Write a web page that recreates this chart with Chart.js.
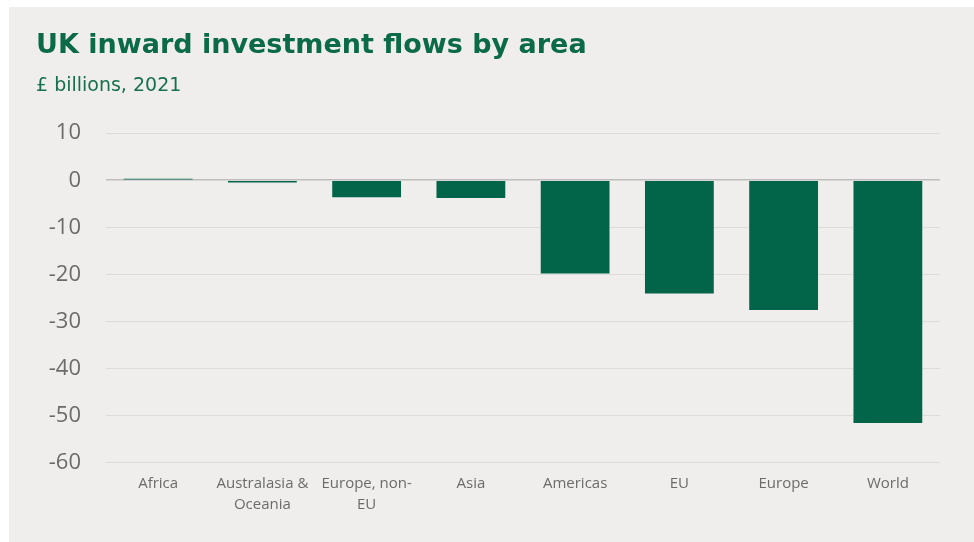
<!DOCTYPE html>
<html>
<head>
<meta charset="utf-8">
<script src="https://cdn.jsdelivr.net/npm/chart.js@4.4.1/dist/chart.umd.min.js"></script>
<style>
	html, body { margin: 0; padding: 0; background: #ffffff; }
	#panel {
		position: absolute;
		left: 9px;
		top: 7px;
		width: 965px;
		height: 535px;
		background: #efeeec;
	}
	#flows-chart { display: block; }
</style>
</head>
<body>
<div id="panel">
	<canvas id="flows-chart" width="965" height="535"></canvas>
</div>
<script>
// £ billions, 2021
const areas = ["Africa", ["Australasia &", "Oceania"], ["Europe, non-", "EU"], "Asia", "Americas", "EU", "Europe", "World"]
const flows = [0.3, -0.5, -3.6, -3.8, -19.8, -24.1, -27.6, -51.6]
const yTicks = [10, 0, -10, -20, -30, -40, -50, -60]

const green = "#02654a"
const tickGrey = "#6b6b6b"

document.addEventListener("DOMContentLoaded", function () {
	const ctx = document.getElementById("flows-chart").getContext("2d")

	new Chart(ctx, {
		type: 'bar',
		data: {
			labels: areas,
			datasets: [{
				label: 'Inward investment flows',
				data: flows,
				backgroundColor: green,
				borderWidth: 0,
				categoryPercentage: 1,
				barPercentage: 0.66
			}]
		},
		options: {
			responsive: false,
			animation: false,
			layout: {
				padding: { top: 23, left: 27, right: 34, bottom: 16 }
			},
			plugins: {
				legend: { display: false },
				tooltip: { enabled: false },
				title: {
					display: true,
					text: 'UK inward investment flows by area',
					align: 'start',
					color: '#0b6a47',
					font: { family: "'DejaVu Sans'", size: 27, weight: 'bold' },
					padding: { top: 0, bottom: 12 }
				},
				subtitle: {
					display: true,
					text: '£ billions, 2021',
					align: 'start',
					color: '#16704d',
					font: { family: "'DejaVu Sans'", size: 19 },
					padding: { top: 0, bottom: 36 }
				}
			},
			scales: {
				x: {
					grid: { display: false, drawTicks: false },
					border: { display: false },
					ticks: {
						color: tickGrey,
						padding: 10,
						maxRotation: 0,
						autoSkip: false,
						font: { family: "'Open Sans'", size: 15, lineHeight: 1.45 }
					}
				},
				y: {
					min: -60,
					max: 10,
					afterFit: (axis) => { axis.width = 70 },
					afterBuildTicks: (axis) => {
						axis.ticks = yTicks.map(v => ({ value: v }))
					},
					grid: {
						drawTicks: false,
						lineWidth: (c) => c.tick && c.tick.value === 0 ? 1.5 : 1,
						color: (c) => c.tick && c.tick.value === 0 ? '#bdbdbd' : '#dddcda'
					},
					border: { display: false },
					ticks: {
						color: tickGrey,
						padding: 25,
						font: { family: "'Open Sans'", size: 22 }
					}
				}
			}
		}
	})
})
</script>
</body>
</html>
